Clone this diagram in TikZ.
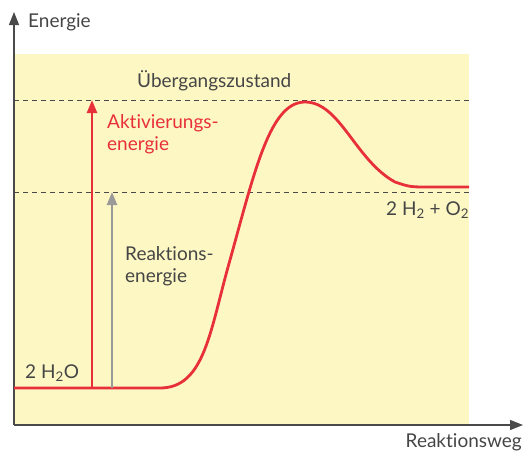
\documentclass[tikz,border=0pt]{standalone}
\usepackage{fontspec}
\setmainfont{Lato}[Ligatures={NoCommon,NoRare}]
\usetikzlibrary{arrows.meta}
\definecolor{bgyellow}{HTML}{FDF7C4}
\definecolor{curvered}{HTML}{E8303A}
\definecolor{axisgray}{HTML}{4A4A4A}
\definecolor{textgray}{HTML}{454545}
\definecolor{arrowgray}{HTML}{9A9A9A}

\begin{document}
\begin{tikzpicture}[x=1pt,y=-1pt,
    lbl/.style={text=textgray,font=\fontsize{19}{22}\selectfont,inner sep=0pt},
    tip/.style={-{Triangle[length=13pt,width=10pt]}}]
  \useasboundingbox (0,0) rectangle (525,453);
  \fill[bgyellow] (14,54) rectangle (469,425);
  \draw[dashed,axisgray,thick,dash pattern=on 5pt off 4pt] (14,100)--(469,100);
  \draw[dashed,axisgray,thick,dash pattern=on 5pt off 4pt] (14,192)--(469,192);
  \draw[axisgray,line width=1.4pt,tip] (14,425)--(14,12);
  \draw[axisgray,line width=1.4pt,tip] (14,425)--(523,425);
  \draw[curvered,line width=2.8pt] (14,388)--(160,388)
    .. controls (205,388) and (210,330) .. (230,260)
    .. controls (255,170) and (270,102) .. (305,102)
    .. controls (340,102) and (355,160) .. (395,182)
    .. controls (410,187) .. (430,187)--(469,187);
  \draw[curvered,line width=2.4pt,tip] (92,388)--(92,100);
  \draw[arrowgray,line width=2.4pt,tip] (112,388)--(112,192);
  \node[lbl,anchor=base west] (energie) at (28,27) {Energie};
  \node[lbl,anchor=base west] (ueber) at (137,87) {Übergangszustand};
  \node[lbl,anchor=base west,text=curvered,align=left] (aktiv) at (107,150)
    {Aktivierungs-\\energie};
  \node[lbl,anchor=base west,align=left] (reakt) at (125,282) {Reaktions-\\energie};
  \node[lbl,anchor=base west] (wasser) at (25,378) {2 H\textsubscript{2}O};
  \node[lbl,anchor=base west] (edukte) at (386,215) {2 H\textsubscript{2} + O\textsubscript{2}};
  \node[lbl,anchor=base east] (weg) at (522,447) {Reaktionsweg};
\end{tikzpicture}
\end{document}
